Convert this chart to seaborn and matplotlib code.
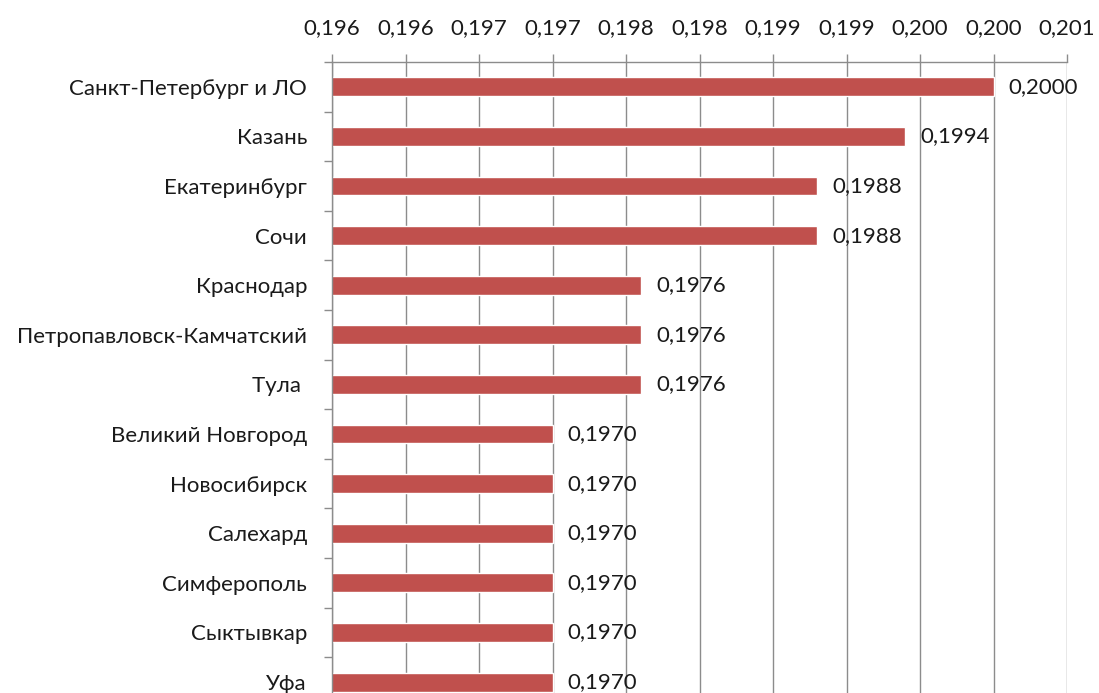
import matplotlib
matplotlib.use("Agg")
import matplotlib.pyplot as plt
import seaborn as sns
import numpy as np
import pandas as pd

# chart data
cities = ["Санкт-Петербург и ЛО", "Казань", "Екатеринбург", "Сочи", "Краснодар",
          "Петропавловск-Камчатский", "Тула ", "Великий Новгород", "Новосибирск",
          "Салехард", "Симферополь", "Сыктывкар", "Уфа"]
values = [0.2000, 0.1994, 0.1988, 0.1988, 0.1976, 0.1976, 0.1976,
          0.1970, 0.1970, 0.1970, 0.1970, 0.1970, 0.1970]
x_ticks = [0.1955, 0.1960, 0.1965, 0.1970, 0.1975, 0.1980,
           0.1985, 0.1990, 0.1995, 0.2000, 0.2005]
x_tick_labels = ["0,196", "0,196", "0,197", "0,197", "0,198", "0,198",
                 "0,199", "0,199", "0,200", "0,200", "0,201"]

df = pd.DataFrame({"city": cities, "value": values})

sns.set_style("white")
plt.rcParams['font.family'] = ['Lato', 'DejaVu Sans']

fig = plt.figure(figsize=(10.99, 6.93), dpi=100)
ax = fig.add_axes([332 / 1099, 0, (1067 - 332) / 1099, (693 - 62) / 693])

sns.barplot(data=df, x="value", y="city", orient="h", color="#C0504D",
            saturation=1, width=0.38, ax=ax)

grid_col = "#8c8c8c"
text_col = "#1a1a1a"
fs = 16

ax.set_xlim(0.1955, 0.2005)
ax.set_ylim(12.22, -0.5)
ax.set_xticks(x_ticks)
ax.set_xticklabels(x_tick_labels)
ax.xaxis.tick_top()
ax.xaxis.grid(True, color=grid_col, linewidth=1)
ax.set_axisbelow(True)
ax.tick_params(axis="x", which="major", direction="out", length=6, width=1,
               color=grid_col, labelsize=fs, labelcolor=text_col, pad=11)

# category labels centered, small ticks on the boundaries
ax.set_yticks(np.arange(len(cities)))
ax.set_yticklabels(cities)
ax.set_yticks(np.arange(len(cities)) - 0.5, minor=True)
ax.tick_params(axis="y", which="major", length=0, labelsize=fs,
               labelcolor=text_col, pad=18)
ax.tick_params(axis="y", which="minor", direction="out", length=6, width=1,
               color=grid_col, left=True)

ax.set_xlabel("")
ax.set_ylabel("")

for side in ["bottom", "right"]:
    ax.spines[side].set_visible(False)
for side in ["top", "left"]:
    ax.spines[side].set_color(grid_col)
    ax.spines[side].set_linewidth(1)

labels = [f"{v:.4f}".replace(".", ",") for v in values]
ax.bar_label(ax.containers[0], labels=labels, padding=11, fontsize=fs,
             color=text_col)

fig.savefig("out.png", dpi=100)
